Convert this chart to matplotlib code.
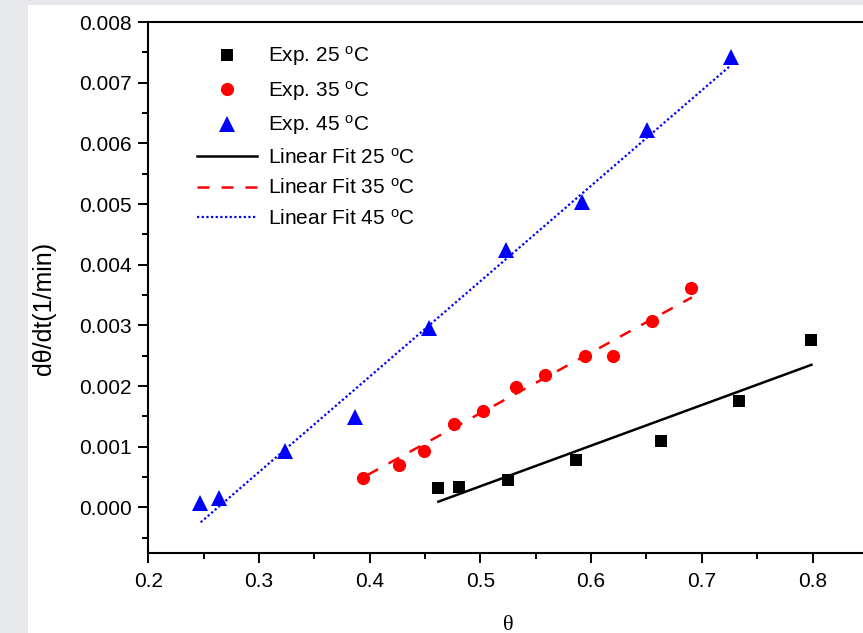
import matplotlib
matplotlib.use("Agg")
import matplotlib.pyplot as plt
from matplotlib.ticker import MultipleLocator, FormatStrFormatter
from matplotlib.patches import Rectangle

plt.rcParams['font.family'] = ['Liberation Sans', 'DejaVu Sans']
plt.rcParams['mathtext.fontset'] = 'custom'
plt.rcParams['mathtext.rm'] = 'Liberation Sans'
plt.rcParams['mathtext.it'] = 'Liberation Sans'

theta_25 = [0.462, 0.481, 0.525, 0.586, 0.663, 0.734, 0.799]
rate_25 = [0.000317, 0.000330, 0.000454, 0.000784, 0.001097, 0.001757, 0.002764]

theta_35 = [0.394, 0.4265, 0.449, 0.476, 0.5026, 0.532, 0.558, 0.5945, 0.620, 0.655, 0.690]
rate_35 = [0.000492, 0.000701, 0.000932, 0.001373, 0.001597, 0.001983, 0.002180, 0.002490, 0.002490, 0.003078, 0.003617]

theta_45 = [0.2467, 0.2641, 0.3235, 0.3868, 0.4538, 0.5229, 0.592, 0.6502, 0.7264]
rate_45 = [0.000070, 0.000152, 0.000937, 0.001498, 0.002957, 0.004249, 0.005036, 0.006218, 0.007422]

# fitted lines (end points)
fit25_x = [0.462, 0.799]
fit25_y = [0.0000957, 0.002351]
fit35_x = [0.398, 0.691]
fit35_y = [0.000536, 0.003462]
fit45_x = [0.2473, 0.7254]
fit45_y = [-0.000244, 0.007274]

deg = r'$^\mathrm{o}$C'

fig = plt.figure(figsize=(8.63, 6.33), dpi=100, facecolor='#e6e8ec')
fig.patches.append(Rectangle((28/863, 0), 1, 1 - 5/633, transform=fig.transFigure,
                             facecolor='white', edgecolor='none', zorder=-1))
ax = fig.add_axes([148.3/863, 1 - 553/633, 719.6/863, 531/633])
ax.set_facecolor('white')

ax.plot(theta_25, rate_25, 's', color='black', ms=8, mew=0, label='Exp. 25 ' + deg)
ax.plot(theta_35, rate_35, 'o', color='red', ms=9.5, mew=0, label='Exp. 35 ' + deg)
ax.plot(theta_45, rate_45, '^', color='blue', ms=11, mew=0, label='Exp. 45 ' + deg)
ax.plot(fit25_x, fit25_y, '-', color='black', lw=1.8, label='Linear Fit 25 ' + deg)
ax.plot(fit35_x, fit35_y, color='red', lw=1.8, linestyle=(0, (4.8, 4.8)), label='Linear Fit 35 ' + deg)
ax.plot(fit45_x, fit45_y, color='blue', lw=1.6, linestyle=(0, (1, 1.1)), label='Linear Fit 45 ' + deg)

ax.set_xlim(0.2, 0.85)
ax.set_ylim(-0.00075, 0.008)
ax.xaxis.set_major_locator(MultipleLocator(0.1))
ax.xaxis.set_minor_locator(MultipleLocator(0.05))
ax.yaxis.set_major_locator(MultipleLocator(0.001))
ax.yaxis.set_minor_locator(MultipleLocator(0.0005))
ax.xaxis.set_major_formatter(FormatStrFormatter('%.1f'))
ax.yaxis.set_major_formatter(FormatStrFormatter('%.3f'))

for s in ['left', 'bottom', 'top']:
    ax.spines[s].set_linewidth(1.5)
ax.spines['right'].set_visible(False)

ax.tick_params(which='major', direction='out', length=7, width=1.4, labelsize=15, pad=5)
ax.tick_params(which='minor', direction='out', length=4, width=1.4)
ax.tick_params(axis='x', which='major', pad=7)

ax.set_xlabel('θ', fontsize=16, family=['Liberation Serif', 'DejaVu Serif'])
ax.xaxis.set_label_coords(0.5, -0.118)
ax.set_ylabel('dθ/dt(1/min)', fontsize=18)
ax.yaxis.set_label_coords(-0.128, 0.46)

ax.legend(loc='upper left', bbox_to_anchor=(0.067, 0.958), frameon=False, fontsize=15,
          handlelength=2.9, handletextpad=0.55, labelspacing=0.5, borderpad=0,
          borderaxespad=0, numpoints=1)

fig.savefig('out.png', dpi=100, facecolor=fig.get_facecolor())
